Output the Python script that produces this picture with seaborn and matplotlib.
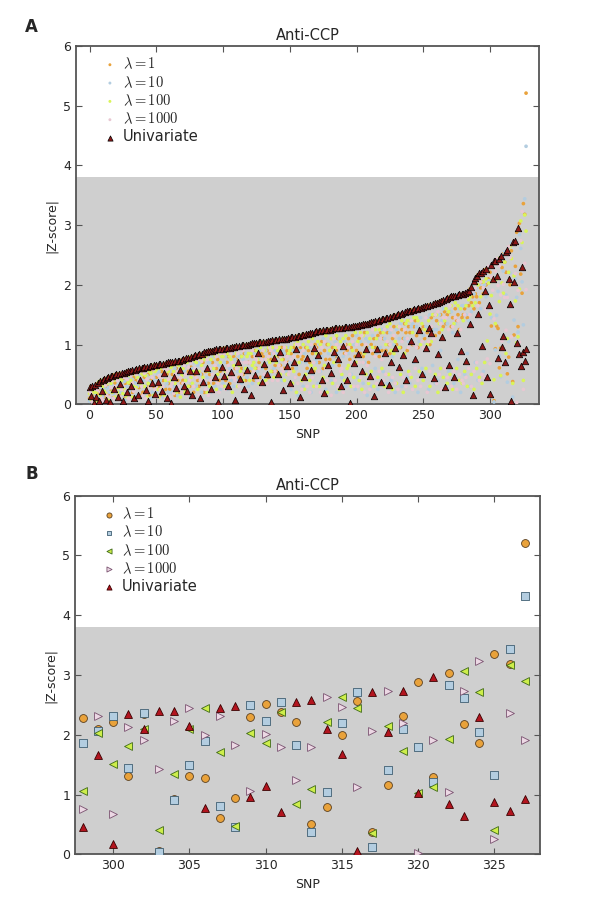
import numpy as np
import pandas as pd
import seaborn as sns
import matplotlib.pyplot as plt

# |Z-score| per SNP (SNPs sorted by their largest |Z| over all methods)
univariate = [
    .29, .14, .31, .02, .33, .12, .36, .05, .39, .22,
    .41, .42, .08, .44, .45, .03, .47, .48, .26, .49,
    .50, .13, .51, .34, .52, .06, .53, .54, .20, .55,
    .56, .30, .57, .11, .58, .59, .16, .60, .41, .61,
    .61, .62, .24, .63, .05, .64, .64, .35, .65, .18,
    .66, .38, .67, .67, .22, .68, .52, .69, .10, .70,
    .70, .02, .71, .46, .72, .28, .73, .73, .58, .74,
    .75, .30, .77, .23, .78, .56, .80, .16, .81, .82,
    .55, .83, .84, .10, .85, .38, .87, .87, .60, .89,
    .89, .25, .90, .91, .45, .92, .04, .93, .93, .62,
    .93, .48, .94, .94, .31, .95, .54, .96, .96, .07,
    .97, .70, .98, .42, .99, .99, .25, 1.00, .57, 1.00,
    1.01, .15, 1.02, 1.02, .49, 1.03, .86, 1.04, 1.04, .37,
    1.05, .67, 1.05, .50, 1.06, 1.06, .03, 1.07, .78, 1.08,
    1.08, .51, 1.09, .87, 1.09, .24, 1.10, 1.10, .64, 1.11,
    .36, 1.12, 1.12, .70, 1.13, .92, 1.14, 1.15, .12, 1.16,
    1.16, .46, 1.17, .78, 1.18, 1.19, .58, 1.20, .95, 1.21,
    1.22, .82, 1.23, 1.23, .40, 1.24, .19, 1.24, 1.25, .65,
    1.25, .53, 1.26, .88, 1.27, 1.27, .75, 1.28, .31, 1.28,
    .97, 1.29, 1.29, .40, 1.30, .02, 1.30, 1.31, .69, 1.31,
    1.31, .85, 1.32, 1.33, .56, 1.34, 1.34, .93, 1.35, 1.36,
    .47, 1.37, 1.37, .14, 1.39, .92, 1.40, 1.41, .38, 1.42,
    1.43, .86, 1.44, 1.45, .33, 1.46, .71, 1.48, 1.48, .95,
    1.50, 1.51, .63, 1.52, 1.53, .82, 1.54, .40, 1.56, 1.56,
    1.57, 1.06, 1.58, 1.59, .76, 1.60, 1.61, 1.24, 1.62, .51,
    1.63, 1.64, .95, 1.65, 1.28, 1.66, 1.20, 1.68, .44, 1.69,
    1.70, .85, 1.72, 1.73, 1.12, 1.75, .29, 1.77, 1.78, .66,
    1.80, 1.81, 1.81, .45, 1.82, 1.20, 1.83, 1.84, .89, 1.85,
    1.85, 1.86, .72, 1.88, 1.90, 1.35, 1.97, .15, 2.07, 2.12,
    2.15, 1.51, 2.19, 2.20, .98, 2.24, 1.90, 2.27,
    0.46, 1.66, 0.18, 2.34, 2.10, 2.40, 2.40, 2.15, 0.77, 2.44,
    2.49, 0.96, 1.15, 0.71, 2.55, 2.59, 2.09, 1.68, 0.06, 2.71,
    2.05, 2.74, 1.02, 2.96, 0.84, 0.64, 2.30, 0.87, 0.73, 0.93,
]

lam1 = [
    .10, .30, .20, .15, .05, .34, .18, .25, .08, .30,
    .20, .12, .43, .30, .15, .38, .22, .10, .49, .35,
    .28, .51, .15, .52, .30, .40, .10, .35, .55, .22,
    .35, .56, .20, .45, .12, .40, .59, .28, .60, .15,
    .20, .45, .62, .30, .50, .15, .40, .58, .30, .66,
    .45, .66, .30, .15, .55, .40, .68, .25, .50, .35,
    .25, .70, .50, .71, .15, .60, .40, .20, .74, .35,
    .40, .76, .25, .78, .55, .30, .62, .80, .20, .50,
    .82, .40, .30, .85, .50, .70, .20, .55, .88, .35,
    .50, .90, .70, .35, .91, .60, .75, .40, .55, .93,
    .60, .94, .40, .70, .80, .35, .96, .50, .80, .60,
    .75, .97, .45, .80, .60, .50, .85, .40, 1.00, .70,
    .55, 1.01, .80, .40, .90, .60, 1.03, .70, .45, .85,
    .80, 1.05, .60, .90, .45, .85, .75, .55, 1.07, .65,
    .55, 1.08, .80, .65, .95, .75, .60, .85, .90, .70,
    1.11, .85, .60, .95, .70, 1.14, .80, .50, .95, .75,
    .80, 1.17, .95, .60, .90, .70, 1.19, .85, .55, 1.00,
    .95, 1.22, .70, .85, 1.05, .60, .90, .75, 1.00, 1.25,
    .75, 1.26, .95, 1.26, .80, .90, 1.10, .65, 1.28, .95,
    1.28, .85, 1.00, .90, 1.10, .75, .95, 1.15, 1.31, .80,
    .90, 1.32, 1.10, .85, 1.00, .80, 1.20, 1.35, .95, .70,
    1.36, 1.00, .85, 1.10, .95, 1.39, 1.15, .80, 1.20, .90,
    1.10, 1.43, .90, 1.20, 1.00, .85, 1.47, 1.10, 1.30, 1.49,
    1.00, 1.20, 1.51, .95, 1.25, 1.10, 1.35, 1.20, .90, 1.30,
    1.20, 1.58, 1.00, 1.30, 1.40, 1.15, .95, 1.61, 1.25, 1.62,
    1.30, 1.10, 1.64, 1.20, 1.66, 1.00, 1.45, 1.25, 1.50, 1.15,
    1.40, 1.71, 1.20, 1.50, 1.74, 1.30, 1.55, 1.35, 1.50, 1.79,
    1.55, 1.30, 1.45, 1.82, 1.60, 1.40, 1.50, 1.25, 1.84, 1.45,
    1.50, 1.60, 1.86, 1.45, 1.65, 1.93, 1.70, 1.80, 1.60, 1.85,
    1.80, 2.17, 1.70, 1.95, 2.05, 1.85, 2.25, 2.00,
    2.28, 2.10, 2.21, 1.31, 2.35, 0.06, 0.93, 1.31, 1.27, 0.61,
    0.94, 2.29, 2.52, 2.38, 2.21, 0.51, 0.79, 2.00, 2.57, 0.38,
    1.16, 2.31, 2.88, 1.30, 3.03, 2.18, 1.86, 3.36, 3.18, 5.21,
]

lam10 = [
    .05, .22, .10, .32, .18, .08, .30, .12, .28, .15,
    .12, .30, .25, .06, .28, .20, .10, .32, .18, .22,
    .10, .32, .40, .20, .12, .53, .38, .08, .30, .45,
    .22, .10, .42, .57, .36, .15, .30, .48, .12, .38,
    .40, .15, .30, .48, .63, .38, .10, .20, .45, .40,
    .20, .50, .55, .40, .68, .12, .30, .60, .35, .20,
    .55, .40, .20, .30, .60, .72, .15, .50, .30, .62,
    .20, .55, .65, .40, .78, .15, .35, .60, .70, .30,
    .30, .65, .70, .50, .20, .86, .60, .35, .45, .70,
    .70, .55, .20, .80, .30, .45, .92, .65, .25, .50,
    .35, .70, .80, .25, .95, .60, .40, .85, .30, .75,
    .40, .55, .80, .98, .35, .75, .60, .85, .45, .30,
    .85, .60, .35, .85, 1.02, .40, .55, .90, .75, .60,
    .45, .75, .90, 1.06, .70, .50, 1.07, .85, .60, .90,
    .85, .70, .50, 1.09, .40, .90, .85, .55, 1.11, .95,
    .70, .25, .90, 1.13, .45, .60, .15, .90, .70, 1.00,
    .30, .85, .70, 1.18, .55, .95, .20, .50, 1.21, .75,
    .70, .35, 1.00, .55, .80, 1.10, 1.24, .25, .65, .85,
    1.00, .40, .65, .80, 1.05, .20, .85, 1.10, .90, .45,
    .80, 1.05, .30, 1.29, .85, 1.30, .50, .70, 1.00, .25,
    1.15, .45, .80, 1.05, 1.33, .35, .70, 1.10, .15, 1.05,
    .95, .30, 1.15, 1.38, .60, .85, .25, 1.10, .95, 1.25,
    .55, 1.10, 1.25, .35, 1.45, 1.20, .40, .80, 1.00, .20,
    1.25, .60, 1.10, 1.35, .30, 1.53, 1.10, 1.55, .45, 1.05,
    .35, 1.30, 1.35, .70, 1.59, 1.30, .20, 1.05, 1.45, .60,
    1.15, .50, 1.30, 1.45, .25, 1.50, 1.67, .65, 1.25, .35,
    1.25, .40, 1.50, .90, 1.40, 1.60, 1.76, .30, 1.35, .55,
    .60, 1.55, 1.20, .35, 1.35, 1.83, .75, 1.60, .20, 1.65,
    1.65, .50, 1.50, .85, 1.40, .30, 1.55, 2.02, 1.85, .70,
    1.95, .40, 2.00, 1.60, 2.22, .55, 2.00, 1.80,
    1.86, 2.07, 2.31, 1.45, 2.37, 0.04, 0.91, 1.49, 1.89, 0.81,
    0.46, 2.50, 2.23, 2.55, 1.83, 0.37, 1.05, 2.20, 2.71, 0.12,
    1.41, 2.10, 1.79, 1.21, 2.84, 2.61, 2.05, 1.33, 3.44, 4.32,
]

lam100 = [
    .18, .08, .25, .20, .28, .20, .06, .38, .15, .40,
    .30, .22, .18, .35, .08, .46, .35, .20, .40, .12,
    .42, .20, .28, .45, .40, .18, .25, .48, .12, .36,
    .48, .40, .12, .30, .50, .28, .45, .10, .35, .52,
    .50, .30, .48, .12, .35, .55, .52, .65, .15, .55,
    .58, .25, .12, .60, .30, .62, .15, .40, .69, .55,
    .40, .62, .65, .55, .35, .20, .68, .65, .12, .48,
    .60, .20, .40, .70, .30, .79, .45, .35, .55, .72,
    .70, .25, .55, .75, .65, .45, .75, .80, .20, .55,
    .30, .75, .85, .60, .80, .25, .50, .85, .70, .80,
    .80, .30, .55, .85, .45, .80, .75, .20, .65, .97,
    .85, .30, .65, .55, .80, .40, .99, .60, .80, .85,
    .40, .85, .65, .70, .60, .90, .75, .35, .95, 1.04,
    .65, .90, .40, .75, .95, .70, .55, .95, .45, .80,
    .70, .90, .95, .50, .75, 1.10, .40, .95, .50, .85,
    .90, .95, .35, .55, 1.00, .20, 1.05, .70, 1.15, .40,
    1.00, .25, .50, .95, 1.05, .40, .65, 1.10, .30, .60,
    .85, 1.05, .30, 1.00, 1.23, .45, .65, 1.15, .20, 1.00,
    .90, 1.10, .35, .70, .95, 1.15, 1.27, .25, 1.05, .50,
    1.10, .40, 1.15, .60, .65, 1.00, .30, .90, .45, 1.20,
    .70, 1.05, .40, 1.20, .25, 1.15, .85, .50, 1.20, .35,
    1.10, .55, .95, .30, 1.25, 1.10, .45, 1.25, 1.41, .60,
    1.20, .30, 1.00, 1.30, .50, 1.35, .90, .25, .85, 1.05,
    .35, 1.30, .95, .50, 1.40, .20, .85, 1.35, 1.40, .55,
    1.40, .45, 1.20, 1.45, .30, 1.45, 1.40, .55, 1.00, 1.35,
    .40, 1.25, .60, 1.00, 1.40, .30, 1.05, 1.50, 1.68, .50,
    1.50, .20, 1.35, .60, 1.25, .45, 1.40, 1.60, .35, 1.55,
    .50, 1.65, .25, 1.35, 1.70, .60, 1.65, .40, 1.60, .35,
    1.40, .55, 1.65, .30, 1.75, 1.80, .50, 1.65, .25, 1.70,
    .60, 2.00, .45, 1.80, .35, 2.05, .70, 2.10,
    1.06, 2.03, 1.51, 1.82, 2.10, 0.41, 1.35, 2.10, 2.44, 1.72,
    0.48, 2.03, 1.86, 2.38, 0.85, 1.10, 2.21, 2.64, 2.44, 0.35,
    2.15, 1.73, 1.03, 1.13, 1.93, 3.07, 2.71, 0.40, 3.17, 2.90,
]

lam1000 = [
    .22, .18, .04, .10, .12, .26, .24, .30, .20, .10,
    .06, .35, .32, .15, .38, .12, .28, .40, .10, .30,
    .20, .40, .08, .12, .25, .30, .45, .22, .42, .10,
    .10, .48, .35, .22, .25, .50, .08, .40, .55, .30,
    .15, .52, .10, .42, .20, .28, .30, .45, .58, .25,
    .30, .12, .48, .25, .45, .30, .60, .10, .58, .42,
    .12, .30, .35, .18, .50, .45, .55, .30, .45, .20,
    .35, .65, .50, .15, .62, .40, .70, .50, .30, .60,
    .45, .75, .15, .40, .72, .60, .40, .25, .75, .15,
    .60, .40, .50, .20, .65, .80, .35, .20, .85, .30,
    .50, .85, .25, .55, .65, .45, .85, .70, .45, .40,
    .60, .85, .30, .70, .50, .90, .70, .25, .70, .55,
    .70, .45, .90, .55, .80, .75, .40, .60, .30, .75,
    .90, .50, .75, .35, .80, .95, .90, .40, .85, .55,
    .95, .40, .65, .80, .60, .55, .95, .70, .80, .50,
    .55, .75, .30, .80, .45, 1.00, .35, 1.00, .85, .25,
    .90, .40, 1.10, .30, .75, .20, 1.00, .45, .70, .95,
    .30, .90, .55, .20, .95, .35, 1.05, .60, .40, .70,
    .60, .15, .85, 1.10, .40, 1.00, .30, .95, .55, .60,
    .20, 1.00, .85, .35, .95, .50, .70, 1.05, .30, .65,
    1.00, .30, .70, .45, 1.15, .70, .20, 1.00, .65, .40,
    .25, .90, 1.25, .45, .80, .35, 1.30, .55, 1.10, .75,
    .40, 1.25, .50, 1.05, .20, 1.00, 1.25, .45, 1.15, .35,
    .90, .25, 1.30, .60, 1.05, .45, 1.25, .30, 1.10, .95,
    .50, 1.40, .25, 1.00, .60, .95, .40, 1.20, .30, 1.05,
    .95, .45, 1.45, .20, 1.05, .55, 1.30, .40, 1.10, 1.50,
    .35, 1.55, .50, 1.35, .25, 1.45, .60, 1.45, .45, 1.25,
    1.65, .30, 1.30, .55, 1.45, .25, 1.40, .50, 1.25, .40,
    .35, 1.50, .45, 1.80, .60, 1.50, .30, 1.90, .55, 1.95,
    .70, 1.65, .40, 2.05, .50, 1.95, .45, 1.60,
    0.76, 2.31, 0.68, 2.13, 1.91, 1.43, 2.23, 2.44, 1.99, 2.32,
    1.83, 1.06, 2.01, 1.79, 1.24, 1.79, 2.64, 2.46, 1.13, 2.06,
    2.74, 2.19, 0.03, 1.91, 1.04, 2.74, 3.23, 0.25, 2.36, 1.92,
]

labels = [r'$\lambda=1$', r'$\lambda=10$', r'$\lambda=100$', r'$\lambda=1000$', 'Univariate']
snp = np.arange(len(univariate))
zoom_start = 298

df = pd.DataFrame({'SNP': snp, 'l1': lam1, 'l10': lam10, 'l100': lam100,
                   'l1000': lam1000, 'uni': univariate})
cols = ['l1', 'l10', 'l100', 'l1000', 'uni']

sns.set_style("ticks")
plt.rcParams['font.family'] = ['DejaVu Sans']
plt.rcParams['mathtext.fontset'] = 'cm'

# panel A: small dots + dark triangles ; panel B: full markers
style_a = [
    dict(marker='o', s=7, color='#e9a23b', edgecolor='none'),
    dict(marker='o', s=7, color='#b3cde0', edgecolor='none'),
    dict(marker='o', s=7, color='#d9f45a', edgecolor='none'),
    dict(marker='o', s=7, color='#e8c7d2', edgecolor='none'),
    dict(marker='^', s=22, color='#8c1818', edgecolor='black', linewidth=0.5),
]
style_b = [
    dict(marker='o', s=32, color='#e9a23b', edgecolor='#5a4020', linewidth=0.6),
    dict(marker='s', s=30, color='#b3cde0', edgecolor='#3f5f72', linewidth=0.6),
    dict(marker='<', s=32, color='#cdee4a', edgecolor='#3f6a18', linewidth=0.6),
    dict(marker='>', s=32, color='#ecd8e4', edgecolor='#7a5270', linewidth=0.6),
    dict(marker='^', s=32, color='#b3141e', edgecolor='#3a0000', linewidth=0.6),
]

fig = plt.figure(figsize=(6, 9.01), dpi=100)
ax_a = fig.add_axes([0.127, 0.5513, 0.772, 0.3977])
ax_b = fig.add_axes([0.125, 0.0518, 0.775, 0.398])


def draw_panel(ax, data, styles, xlim, xticks, mscale):
    ax.axhspan(0, 3.8, color='#cfcfcf', zorder=0, linewidth=0)
    for col, lab, st in zip(cols, labels, styles):
        sns.scatterplot(data=data, x='SNP', y=col, ax=ax, label=lab, zorder=3, **st)
    ax.set_xlim(*xlim)
    ax.set_ylim(0, 6)
    ax.set_xticks(xticks)
    ax.set_yticks(range(7))
    ax.set_xlabel('SNP', fontsize=9)
    ax.set_ylabel('|Z-score|', fontsize=9)
    ax.set_title('Anti-CCP', fontsize=10.5, pad=4)
    ax.tick_params(direction='in', top=True, right=True, length=4, width=0.8,
                   color='#555555', labelsize=9)
    for sp in ax.spines.values():
        sp.set_color('#555555')
        sp.set_linewidth(1.3)
    ax.legend(loc='upper left', bbox_to_anchor=(0.035, 1.0), frameon=False,
              fontsize=10.5, handlelength=1.0, handletextpad=0.4,
              labelspacing=0.2, borderaxespad=0.3, scatterpoints=1,
              markerscale=mscale)


draw_panel(ax_a, df, style_a, (-10, 337), range(0, 301, 50), 0.8)
draw_panel(ax_b, df[df['SNP'] >= zoom_start], style_b, (297.5, 328),
           range(300, 326, 5), 0.65)

fig.text(0.042, 0.98, 'A', fontsize=12, fontweight='bold', va='top')
fig.text(0.042, 0.484, 'B', fontsize=12, fontweight='bold', va='top')

fig.savefig('out.png', dpi=100)
